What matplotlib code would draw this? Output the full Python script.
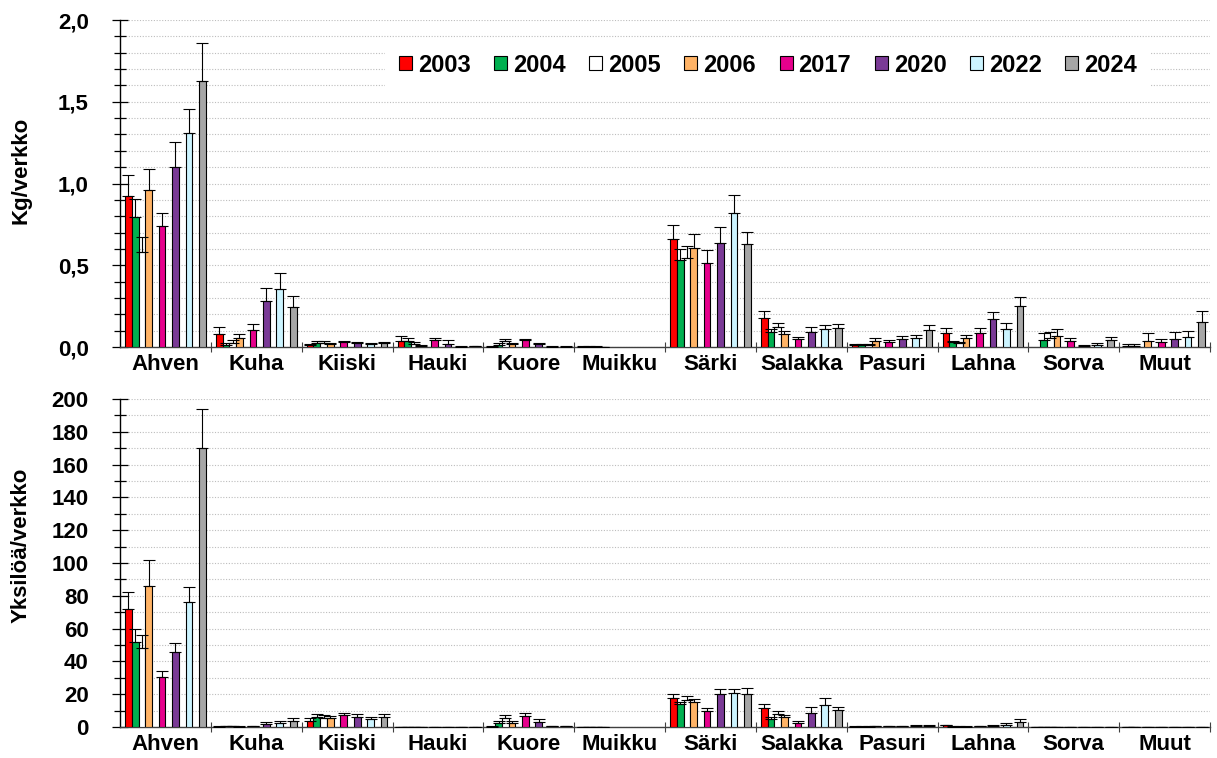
import numpy as np
import matplotlib
matplotlib.use("Agg")
import matplotlib.pyplot as plt
from matplotlib.ticker import MultipleLocator, FuncFormatter

plt.rcParams["font.family"] = ["Liberation Sans", "DejaVu Sans"]
plt.rcParams["font.weight"] = "bold"

nan = np.nan

species = ["Ahven", "Kuha", "Kiiski", "Hauki", "Kuore", "Muikku",
           "Särki", "Salakka", "Pasuri", "Lahna", "Sorva", "Muut"]
years = ["2003", "2004", "2005", "2006", "2017", "2020", "2022", "2024"]
year_colors = ["#FF0000", "#00B050", "#FFFFFF", "#FFB366",
               "#E6008C", "#7A3A96", "#CCF4FF", "#A6A6A6"]
# slot of each year inside a species group (Excel left empty slots between)
year_slots = [0, 1, 2, 3, 5, 7, 9, 11]

# Kg/verkko (means and upper error)
kg = {
    "2003": [0.925, 0.082, 0.015, 0.035, 0.003, 0.003, 0.659, 0.178, 0.010, 0.088, nan, 0.006],
    "2004": [0.798, 0.015, 0.027, 0.035, 0.015, 0.003, 0.530, 0.092, 0.010, 0.030, 0.045, 0.006],
    "2005": [0.580, 0.027, 0.025, 0.020, 0.035, 0.003, 0.547, 0.123, 0.012, 0.025, 0.057, nan],
    "2006": [0.958, 0.058, 0.020, 0.005, 0.017, 0.002, 0.608, 0.082, 0.037, 0.055, 0.070, 0.039],
    "2017": [0.739, 0.103, 0.030, 0.041, 0.041, nan, 0.512, 0.047, 0.033, 0.088, 0.039, 0.031],
    "2020": [1.103, 0.279, 0.027, 0.020, 0.017, nan, 0.639, 0.094, 0.049, 0.170, 0.005, 0.049],
    "2022": [1.306, 0.354, 0.020, 0.003, 0.003, nan, 0.819, 0.111, 0.057, 0.113, 0.012, 0.059],
    "2024": [1.624, 0.242, 0.025, 0.005, 0.003, nan, 0.631, 0.119, 0.102, 0.252, 0.041, 0.150],
}
kg_err = {
    "2003": [0.129, 0.043, 0.005, 0.033, 0.002, 0.001, 0.086, 0.043, 0.006, 0.029, 0, 0.012],
    "2004": [0.107, 0.012, 0.008, 0.023, 0.010, 0.001, 0.068, 0.021, 0.008, 0.008, 0.039, 0.012],
    "2005": [0.095, 0.016, 0.010, 0.012, 0.012, 0.001, 0.073, 0.023, 0.008, 0.005, 0.035, 0],
    "2006": [0.131, 0.022, 0.005, 0.005, 0.008, 0.001, 0.086, 0.016, 0.018, 0.021, 0.043, 0.045],
    "2017": [0.080, 0.037, 0.004, 0.017, 0.008, 0, 0.080, 0.014, 0.012, 0.029, 0.016, 0.020],
    "2020": [0.148, 0.079, 0.006, 0.020, 0.005, 0, 0.092, 0.031, 0.018, 0.043, 0.007, 0.043],
    "2022": [0.152, 0.096, 0.005, 0.002, 0.002, 0, 0.111, 0.026, 0.019, 0.034, 0.013, 0.037],
    "2024": [0.233, 0.071, 0.005, 0.003, 0.002, 0, 0.073, 0.024, 0.031, 0.053, 0.023, 0.071],
}

# Yksilöä/verkko (means and upper error)
ind = {
    "2003": [72.1, 0.3, 3.9, 0.2, 0.3, 0.2, 17.9, 11.4, 0.3, 1.0, 0.2, 0.1],
    "2004": [51.7, 0.5, 6.1, 0.2, 2.4, 0.2, 13.9, 4.9, 0.3, 0.3, 0.2, 0.1],
    "2005": [48.3, 0.5, 5.7, 0.2, 5.7, 0.2, 16.7, 8.1, 0.3, 0.3, 0.2, nan],
    "2006": [86.1, 0.3, 5.3, 0.2, 2.4, 0.1, 15.3, 6.1, 0.4, 0.3, 0.2, 0.1],
    "2017": [30.5, 0.6, 7.5, 0.2, 6.7, nan, 10.0, 2.7, 0.4, 0.5, 0.1, 0.1],
    "2020": [45.6, 2.0, 6.3, 0.2, 3.1, nan, 20.4, 8.6, 0.5, 0.8, 0.1, 0.1],
    "2022": [76.4, 2.7, 4.9, 0.2, 0.5, nan, 20.8, 13.7, 0.6, 1.3, 0.1, 0.1],
    "2024": [170.2, 3.9, 6.1, 0.1, 0.7, nan, 20.4, 10.6, 0.8, 3.3, 0.1, 0.1],
}
ind_err = {
    "2003": [10.4, 0.2, 1.4, 0.1, 0.2, 0.1, 2.5, 2.9, 0.2, 0.5, 0.1, 0.1],
    "2004": [8.2, 0.3, 2.0, 0.1, 1.5, 0.1, 1.4, 1.4, 0.2, 0.2, 0.1, 0.1],
    "2005": [7.9, 0.3, 1.8, 0.1, 1.8, 0.1, 2.5, 1.7, 0.2, 0.2, 0.1, 0],
    "2006": [15.5, 0.2, 1.2, 0.1, 1.1, 0.1, 2.0, 1.2, 0.2, 0.2, 0.1, 0.1],
    "2017": [3.9, 0.3, 0.9, 0.1, 1.7, 0, 1.4, 1.0, 0.2, 0.3, 0.1, 0.1],
    "2020": [5.5, 1.0, 1.8, 0.1, 1.6, 0, 3.0, 3.4, 0.2, 0.5, 0.1, 0.1],
    "2022": [8.9, 0.8, 1.2, 0.1, 0.2, 0, 2.6, 3.8, 0.4, 1.0, 0.1, 0.1],
    "2024": [23.4, 1.4, 1.6, 0.1, 0.2, 0, 3.2, 1.8, 0.7, 1.3, 0.1, 0.1],
}

W, H = 1217, 758
fig = plt.figure(figsize=(W / 100, H / 100), dpi=100)
ax1 = fig.add_axes([120 / W, 1 - 347 / H, 1090 / W, 327 / H])
ax2 = fig.add_axes([120 / W, 1 - 727 / H, 1090 / W, 328 / H])

bw = 0.074
x0 = np.arange(len(species)) + 0.5 - 6 * bw


def draw(ax, data, errs, ymax, major, minor, fmt):
    handles = []
    for j, y in enumerate(years):
        x = x0 + year_slots[j] * bw + bw / 2
        vals = np.array(data[y], dtype=float)
        e = np.array(errs[y], dtype=float)
        b = ax.bar(x, vals, width=bw, color=year_colors[j], edgecolor="black",
                   linewidth=0.8, zorder=3, label=y)
        ax.errorbar(x, vals, yerr=[np.zeros_like(e), e], fmt="none",
                    ecolor="black", elinewidth=0.8, capsize=4, capthick=0.8,
                    zorder=4)
        handles.append(b)
    ax.set_xlim(0, len(species))
    ax.set_ylim(0, ymax)
    ax.yaxis.set_major_locator(MultipleLocator(major))
    ax.yaxis.set_minor_locator(MultipleLocator(minor))
    ax.yaxis.set_major_formatter(FuncFormatter(fmt))
    ax.yaxis.grid(True, which="both", linestyle=(0, (1, 1.5)), color="#BDBDBD",
                  linewidth=0.8, zorder=0)
    ax.set_axisbelow(True)
    ax.set_xticks(np.arange(len(species)) + 0.5)
    ax.set_xticklabels(species, fontsize=16, fontweight="bold")
    ax.set_xticks(np.arange(1, len(species) + 1), minor=True)
    ax.tick_params(axis="x", which="major", length=0, pad=5)
    ax.tick_params(axis="x", which="minor", direction="inout", length=7,
                   width=0.8, color="#404040")
    ax.tick_params(axis="y", which="major", direction="inout", length=11,
                   width=0.9, labelsize=16, pad=17)
    ax.tick_params(axis="y", which="minor", direction="inout", length=8, width=0.9)
    for lab in ax.get_yticklabels():
        lab.set_fontweight("bold")
    for s in ["top", "right"]:
        ax.spines[s].set_visible(False)
    ax.spines["left"].set_linewidth(1.0)
    ax.spines["bottom"].set_linewidth(1.0)
    ax.spines["bottom"].set_color("#404040")
    return handles


h = draw(ax1, kg, kg_err, 2.0, 0.5, 0.1, lambda v, p: f"{v:.1f}".replace(".", ","))
draw(ax2, ind, ind_err, 200, 20, 10, lambda v, p: f"{v:.0f}")

fig.text(21 / W, 1 - 170 / H, "Kg/verkko", rotation=90, fontsize=16,
         fontweight="bold", ha="center", va="center")
fig.text(21 / W, 1 - 545 / H, "Yksilöä/verkko", rotation=90, fontsize=16,
         fontweight="bold", ha="center", va="center")

leg = fig.legend(handles=h, labels=years, loc="center",
                 bbox_to_anchor=(768 / W, 1 - 65 / H),
                 ncol=8, frameon=True, facecolor="white", edgecolor="none",
                 framealpha=1, fancybox=False, borderpad=0.6,
                 handlelength=0.55, handleheight=0.5, handletextpad=0.25,
                 columnspacing=1.0, prop={"size": 17, "weight": "bold"})

fig.savefig("out.png", dpi=100)
